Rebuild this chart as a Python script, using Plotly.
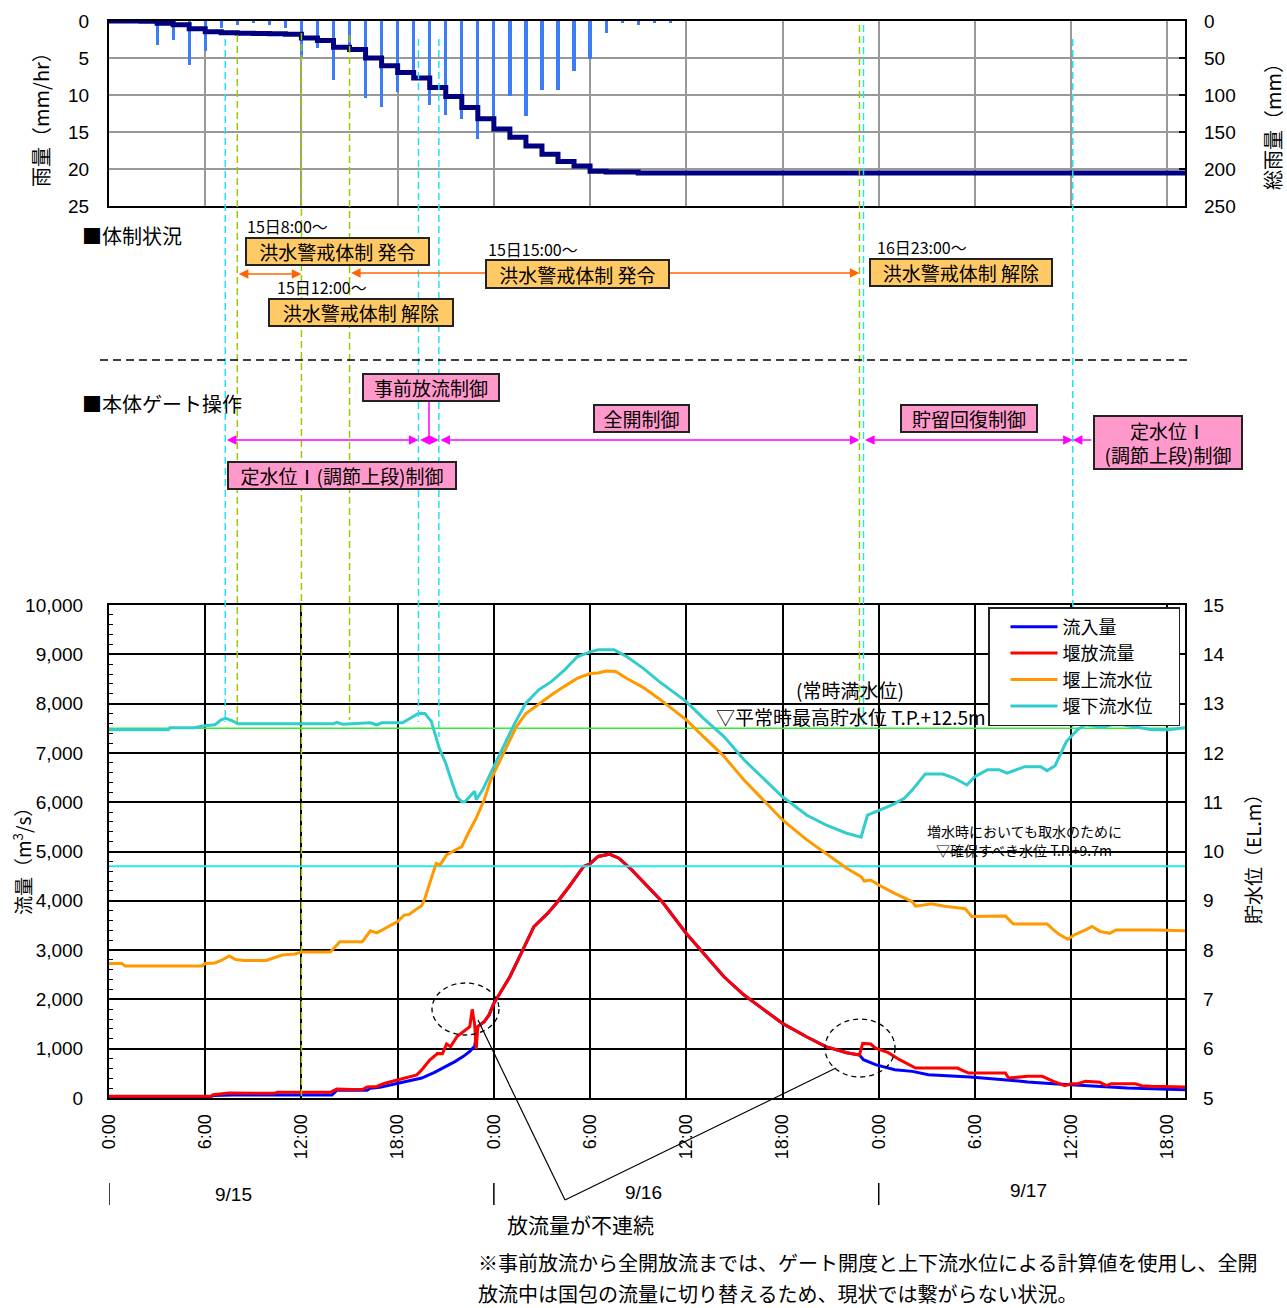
import plotly.graph_objects as go

W, H = 1287, 1308
JP = "Noto Sans CJK JP"
NUM = "Liberation Sans Narrow, Liberation Sans, Arial, sans-serif"

# ---------------- data (hours from 9/15 0:00) ----------------
rain_hour = [3, 4, 5, 6, 7, 8, 9, 10, 11, 12, 13, 14, 15, 16, 17, 18, 19, 20, 21, 22, 23,
             24, 25, 26, 27, 28, 29, 30, 31, 32, 33, 34, 35]
rain_mmhr = [3.2, 2.5, 5.9, 4.0, 1.0, 0.6, 0.2, 0.5, 0.9, 4.9, 3.6, 8.0, 4.0, 10.4, 11.6, 9.6,
             7.7, 11.3, 12.7, 13.2, 16.0, 13.0, 10.1, 12.9, 9.3, 9.3, 6.8, 5.1, 1.6, 0.2, 0.5, 0.3, 0.3]

cum_hour = [0, 2, 3, 4, 5, 6, 7, 8, 9, 10, 11, 12, 13, 14, 15, 16, 17, 18, 19, 20, 21, 22, 23,
            24, 25, 26, 27, 28, 29, 30, 31, 33, 67.1]
cum_mm = [0, 0.5, 3.0, 5.0, 10.5, 14.5, 16.0, 16.5, 16.8, 17.2, 18.0, 23.0, 26.5, 35.5, 38.5,
          50.0, 60.5, 69.5, 77.0, 90.0, 102.0, 117.0, 132.0, 146.0, 157.0, 169.0, 180.0, 190.0,
          196.0, 203.0, 204.0, 205.5, 205.5]

inflow_hour = [0, 6.3, 6.5, 7.7, 13.9, 14.2, 16.1, 16.3, 16.9, 17.9, 18.7, 19.5, 20.3, 21.05,
               21.6, 22.1, 22.5, 22.8, 23.0, 23.4, 23.7, 24.0, 24.3, 25.0, 25.8, 26.5, 27.35,
               27.9, 28.7, 29.6, 30.0, 30.5, 31.2, 31.8, 32.6, 33.4, 34.2, 34.5, 36.0, 37.07,
               38.35, 39.6, 40.9, 42.0, 43.5, 44.7, 46.0, 46.8, 47.05, 47.8, 49.0, 50.1, 51.1,
               53.7, 55.8, 57.3, 58.9, 61.4, 63.5, 67.1]
inflow_cms = [20, 20, 50, 60, 60, 155, 155, 200, 220, 290, 340, 405, 520, 642, 743, 845, 946,
              1047, 1447, 1550, 1685, 1920, 2090, 2460, 3000, 3475, 3745, 3950, 4290, 4696,
              4750, 4899, 4946, 4865, 4628, 4358, 4088, 3980, 3338, 2932, 2459, 2088, 1784,
              1514, 1243, 1041, 919, 872, 777, 676, 574, 540, 473, 426, 372, 324, 290, 250,
              203, 169]

outflow_hour = [0, 6.35, 6.5, 7.5, 10.3, 10.5, 13.8, 14.2, 15.1, 15.8, 16.1, 16.7, 17.2, 17.9,
                18.4, 19.2, 19.5, 20.0, 20.5, 20.8, 21.05, 21.3, 21.7, 22.1, 22.5, 22.65, 22.8,
                22.9, 23.0, 23.4, 23.7, 24.0, 24.3, 25.0, 25.8, 26.5, 27.35, 27.9, 28.7, 29.6,
                30.0, 30.5, 31.2, 31.8, 32.6, 33.4, 34.2, 34.5, 36.0, 37.07, 38.35, 39.6, 40.9,
                42.0, 43.5, 44.7, 46.0, 46.8, 47.0, 47.5, 47.8, 48.6, 49.3, 50.1, 50.3, 52.9,
                53.6, 55.9, 56.1, 57.3, 58.2, 58.9, 59.6, 60.0, 60.4, 60.9, 61.8, 62.2, 62.5,
                64.0, 64.4, 65.0, 67.1]
outflow_cms = [34, 34, 68, 100, 95, 115, 115, 180, 170, 170, 225, 235, 300, 365, 400, 470, 570,
               770, 905, 900, 1095, 1040, 1245, 1345, 1447, 1798, 1500, 990, 1447, 1550, 1685,
               1920, 2090, 2460, 3000, 3475, 3745, 3950, 4290, 4696, 4750, 4899, 4946, 4865,
               4628, 4358, 4088, 3980, 3338, 2932, 2459, 2088, 1784, 1514, 1243, 1041, 919,
               872, 1108, 1095, 1010, 919, 777, 655, 608, 608, 507, 507, 405, 440, 440, 338,
               250, 290, 290, 338, 318, 250, 290, 290, 250, 236, 223]

up_hour = [0, 0.8, 1.0, 5.8, 6.0, 6.6, 7.0, 7.5, 7.9, 8.45, 9.8, 10.3, 10.8, 11.6, 12.0, 13.8,
           14.4, 15.8, 16.3, 16.7, 17.4, 18.0, 18.4, 18.7, 19.2, 19.5, 19.7, 20.0, 20.4, 20.65,
           21.05, 21.6, 22.0, 22.4, 22.9, 23.4, 23.8, 24.2, 24.7, 25.4, 26.0, 26.7, 27.6, 28.4,
           29.2, 30.0, 30.5, 31.0, 31.6, 32.3, 33.3, 34.3, 36.0, 37.07, 38.35, 39.6, 40.9,
           42.0, 43.5, 44.7, 46.0, 46.9, 47.1, 47.5, 48.0, 49.0, 50.1, 50.3, 51.3, 52.1, 53.4,
           53.8, 55.9, 56.4, 58.5, 58.9, 59.3, 59.8, 60.2, 60.9, 61.3, 61.8, 62.4, 62.8, 65.3,
           67.1]
up_level = [7.73, 7.73, 7.68, 7.68, 7.73, 7.74, 7.79, 7.88, 7.81, 7.79, 7.79, 7.84, 7.90, 7.92,
            7.96, 7.96, 8.17, 8.17, 8.39, 8.35, 8.47, 8.58, 8.71, 8.72, 8.84, 8.90, 9.05, 9.35,
            9.76, 9.73, 9.93, 10.03, 10.10, 10.37, 10.68, 11.05, 11.45, 11.72, 12.06, 12.53,
            12.80, 12.97, 13.18, 13.35, 13.51, 13.61, 13.62, 13.66, 13.65, 13.51, 13.33, 13.10,
            12.67, 12.33, 11.93, 11.45, 11.01, 10.64, 10.24, 9.97, 9.66, 9.49, 9.40, 9.42, 9.32,
            9.15, 8.98, 8.89, 8.94, 8.89, 8.84, 8.68, 8.69, 8.53, 8.53, 8.41, 8.31, 8.22, 8.31,
            8.41, 8.48, 8.38, 8.34, 8.41, 8.41, 8.39]

down_hour = [0, 3.7, 3.8, 5.3, 6.0, 6.6, 7.0, 7.27, 7.7, 8.05, 14.0, 14.2, 14.6, 15.8, 16.3,
             16.7, 17.0, 18.3, 18.8, 19.3, 19.7, 20.1, 20.6, 21.0, 21.4, 21.7, 22.0, 22.2, 22.8,
             22.9, 23.3, 23.7, 24.1, 24.6, 25.3, 26.0, 26.8, 27.6, 28.4, 29.2, 30.0, 30.5, 31.5,
             32.3, 33.3, 34.3, 36.0, 37.07, 38.35, 39.6, 40.9, 42.0, 43.5, 44.7, 46.0, 46.9,
             47.3, 48.05, 48.8, 49.6, 50.1, 50.9, 52.0, 52.7, 53.5, 54.0, 54.8, 55.5, 56.0,
             57.1, 58.1, 58.5, 59.0, 59.7, 60.4, 60.9, 62.0, 62.5, 63.2, 64.3, 65.0, 66.1, 67.1]
down_level = [12.47, 12.47, 12.51, 12.51, 12.55, 12.57, 12.67, 12.70, 12.65, 12.59, 12.59, 12.62,
              12.58, 12.61, 12.61, 12.57, 12.61, 12.61, 12.70, 12.80, 12.80, 12.64, 12.09,
              11.79, 11.39, 11.11, 11.01, 11.01, 11.22, 11.05, 11.25, 11.52, 11.79, 12.13,
              12.60, 13.01, 13.28, 13.45, 13.68, 13.95, 14.05, 14.09, 14.09, 13.95, 13.72,
              13.45, 13.04, 12.70, 12.33, 11.86, 11.45, 11.11, 10.74, 10.54, 10.37, 10.29,
              10.74, 10.84, 10.94, 11.08, 11.25, 11.57, 11.57, 11.49, 11.35, 11.52, 11.66,
              11.66, 11.59, 11.72, 11.72, 11.64, 11.74, 12.23, 12.47, 12.57, 12.52, 12.57,
              12.57, 12.51, 12.47, 12.47, 12.51]

# reference water levels (m)
normal_high_level = 12.5
secure_level = 9.7

hour_ticks = [0, 6, 12, 18, 24, 30, 36, 42, 48, 54, 60, 66]
hour_labels = ["0:00", "6:00", "12:00", "18:00"] * 3
day_start_hours = [0, 24, 48]
day_labels = ["9/15", "9/16", "9/17"]

# event times (hours)
cyan_events = [7.25, 19.3, 20.57, 47.05, 60.1]
green_events = [8.0, 12.0, 15.0, 46.8]

X_MAX = 67.1


# ---------------- layout helpers ----------------
def px(x):
    return x / W


def py(y):
    return 1 - y / H


X0, X1 = px(109), px(1185)
TOP = [py(206), py(21)]
BOT = [py(1098), py(605)]

fig = go.Figure()

fig.add_trace(go.Bar(x=rain_hour, y=rain_mmhr, xaxis="x", yaxis="y", width=0.2,
                     marker=dict(color="#3c7cf5", line=dict(width=0)), showlegend=False))
fig.add_trace(go.Scatter(x=cum_hour, y=cum_mm, xaxis="x", yaxis="y2", mode="lines",
                         line=dict(color="#000080", width=5, shape="hv"), showlegend=False))

NB = "\u00a0"
fig.add_trace(go.Scatter(x=inflow_hour, y=inflow_cms, xaxis="x2", yaxis="y3", mode="lines",
                         name="流入量", line=dict(color="#0000ff", width=3)))
fig.add_trace(go.Scatter(x=outflow_hour, y=outflow_cms, xaxis="x2", yaxis="y3", mode="lines",
                         name="堰放流量", line=dict(color="#ff0000", width=3)))
# reference level lines
fig.add_trace(go.Scatter(x=[0, X_MAX], y=[normal_high_level] * 2, xaxis="x2", yaxis="y4",
                         mode="lines", line=dict(color="#33ee33", width=1.5), showlegend=False,
                         hoverinfo="skip"))
fig.add_trace(go.Scatter(x=[0, X_MAX], y=[secure_level] * 2, xaxis="x2", yaxis="y4",
                         mode="lines", line=dict(color="#22e8f0", width=2), showlegend=False,
                         hoverinfo="skip"))
fig.add_trace(go.Scatter(x=up_hour, y=up_level, xaxis="x2", yaxis="y4", mode="lines",
                         name="堰上流水位" + NB * 5, line=dict(color="#ff9900", width=3)))
fig.add_trace(go.Scatter(x=down_hour, y=down_level, xaxis="x2", yaxis="y4", mode="lines",
                         name="堰下流水位", line=dict(color="#33cccc", width=3)))

axis_common = dict(showline=True, linecolor="black", linewidth=2, mirror=True, zeroline=False,
                   automargin=False)

fig.update_layout(
    width=W, height=H, autosize=False,
    margin=dict(l=0, r=0, t=0, b=0, pad=0, autoexpand=False),
    paper_bgcolor="white", plot_bgcolor="white",
    bargap=0,
    xaxis=dict(domain=[X0, X1], range=[0, X_MAX], anchor="y", tickvals=hour_ticks,
               showticklabels=False, ticks="", showgrid=True, gridcolor="#999999",
               gridwidth=1.5, **axis_common),
    yaxis=dict(domain=TOP, range=[25, 0], anchor="x", dtick=5, tick0=0, showgrid=True,
               gridcolor="#999999", gridwidth=1.5, ticks="", ticklabelstandoff=14,
               tickfont=dict(family="Liberation Sans, Arial", size=19, color="black"),
               **axis_common),
    yaxis2=dict(overlaying="y", side="right", anchor="x", range=[250, 0], dtick=50, tick0=0,
                showgrid=False, zeroline=False, ticks="inside", ticklen=6, tickcolor="black",
                tickwidth=2, ticklabelstandoff=18, automargin=False,
                tickfont=dict(family="Liberation Sans, Arial", size=19, color="black")),
    xaxis2=dict(domain=[X0, X1], range=[0, X_MAX], anchor="y3", tickvals=hour_ticks,
                ticktext=hour_labels, tickangle=-90, ticks="", showgrid=True,
                gridcolor="black", gridwidth=1.5, ticklabelstandoff=7,
                tickfont=dict(family="Liberation Sans, Arial", size=18, color="black"),
                **axis_common),
    yaxis3=dict(domain=BOT, range=[0, 10000], anchor="x2", dtick=1000, tick0=0,
                tickformat=",d", showgrid=True, gridcolor="black", gridwidth=1.5, ticks="",
                ticklabelstandoff=20,
                minor=dict(dtick=200, ticks="inside", ticklen=4, tickcolor="black",
                           showgrid=False),
                tickfont=dict(family=NUM, size=19, color="black"), **axis_common),
    yaxis4=dict(overlaying="y3", side="right", anchor="x2", range=[5, 15], dtick=1, tick0=5,
                showgrid=False, zeroline=False, ticks="", ticklabelstandoff=17,
                automargin=False,
                tickfont=dict(family=NUM, size=19, color="black")),
    legend=dict(x=px(988), y=py(607), xanchor="left", yanchor="top", bgcolor="white",
                bordercolor="#222", borderwidth=1.5, itemwidth=47, tracegroupgap=0,
                indentation=16,
                font=dict(family=JP, size=18, color="black")),
)

shapes = []
cyan_spans = [(39, 722), (39, 722), (39, 737), (25, 725), (39, 727)]
green_spans = [(35, 722), (33, 1098), (35, 720), (25, 712)]
for t, (a, b) in zip(cyan_events, cyan_spans):
    shapes.append(dict(type="line", xref="x", yref="paper", x0=t, x1=t, y0=py(a), y1=py(b),
                       line=dict(color="#20e4f4", width=1.5, dash="7px,4px"), layer="above"))
for t, (a, b) in zip(green_events, green_spans):
    shapes.append(dict(type="line", xref="x", yref="paper", x0=t, x1=t, y0=py(a), y1=py(b),
                       line=dict(color="#99cc00", width=1.5, dash="7px,4px"), layer="above"))

# separator
shapes.append(dict(type="line", xref="paper", yref="paper", x0=px(100), x1=px(1192),
                   y0=py(360), y1=py(360), line=dict(color="black", width=1.5, dash="8px,5px")))
# day ticks
for t in day_start_hours:
    shapes.append(dict(type="line", xref="x", yref="paper", x0=t, x1=t, y0=py(1183),
                       y1=py(1205), line=dict(color="black", width=1.5)))
# dashed circles and callout
shapes.append(dict(type="circle", xref="paper", yref="paper", x0=px(432), x1=px(499),
                   y0=py(983), y1=py(1035), line=dict(color="black", width=1.3, dash="5px,4px")))
shapes.append(dict(type="circle", xref="paper", yref="paper", x0=px(825), x1=px(895),
                   y0=py(1019), y1=py(1077), line=dict(color="black", width=1.3, dash="5px,4px")))
shapes.append(dict(type="line", xref="paper", yref="paper", x0=px(478), y0=py(1020),
                   x1=px(565), y1=py(1200), line=dict(color="black", width=1.2)))
shapes.append(dict(type="line", xref="paper", yref="paper", x0=px(565), y0=py(1200),
                   x1=px(836), y1=py(1068), line=dict(color="black", width=1.2)))
# magenta connector from 事前放流制御 box
shapes.append(dict(type="line", xref="paper", yref="paper", x0=px(429), x1=px(429),
                   y0=py(402), y1=py(440), line=dict(color="#ff00ff", width=1.5)))

ann = []


def text(t, x, y, size, xanchor="left", family=JP, angle=0):
    ann.append(dict(text=t, xref="paper", yref="paper", x=px(x), y=py(y), xanchor=xanchor,
                    yanchor="middle", showarrow=False, textangle=angle,
                    font=dict(family=family, size=size, color="black")))


def box(t, x0, y0, x1, y1, fill, size=19):
    bw = 2
    ann.append(dict(text=t, xref="paper", yref="paper", x=px(x0), y=py(y0), xanchor="left",
                    yanchor="top", showarrow=False, width=(x1 - x0) - 2 * bw,
                    height=(y1 - y0) - 2 * bw, bgcolor=fill, bordercolor="#222",
                    borderwidth=bw, borderpad=0, align="center", valign="middle",
                    font=dict(family=JP, size=size, color="black")))


def arrow(t0, t1, y, color, both=True):
    ann.append(dict(text="", xref="x", yref="paper", x=t1, y=py(y), axref="x", ax=t0,
                    ayref="pixel", ay=0, showarrow=True, arrowhead=2, arrowsize=1.2,
                    arrowwidth=1.6, arrowcolor=color, startarrowhead=2, startarrowsize=1.2,
                    arrowside="end+start" if both else "end", standoff=0, startstandoff=0))


# arrows first so that boxes are drawn above them
arrow(green_events[0], green_events[1], 274, "#ff6600")
arrow(green_events[2], green_events[3], 273, "#ff6600")
arrow(cyan_events[0], cyan_events[1], 440, "#ff00ff")
arrow(cyan_events[1], cyan_events[2], 440, "#ff00ff")
arrow(cyan_events[2], green_events[3], 440, "#ff00ff")
arrow(cyan_events[3], cyan_events[4], 440, "#ff00ff")
arrow(61.35, cyan_events[4], 440, "#ff00ff", both=False)

OR = "#ffca66"
PK = "#ff99cc"
text("■体制状況", 80, 235, 20)
text("■本体ゲート操作", 80, 403, 20)
text("15日8:00～", 245, 226, 16)
text("15日12:00～", 275, 287, 16)
text("15日15:00～", 486, 249, 16)
text("16日23:00～", 875, 247, 16)
box("洪水警戒体制 発令", 245, 237, 430, 266, OR)
box("洪水警戒体制 解除", 268, 298, 454, 327, OR)
box("洪水警戒体制 発令", 485, 259, 670, 289, OR)
box("洪水警戒体制 解除", 869, 258, 1053, 287, OR)
box("事前放流制御", 362, 373, 500, 402, PK)
box("全開制御", 593, 404, 690, 433, PK)
box("定水位Ⅰ(調節上段)制御", 227, 461, 457, 490, PK)
box("貯留回復制御", 900, 404, 1038, 433, PK)
box("定水位Ⅰ<br>(調節上段)制御", 1093, 415, 1243, 470, PK)

text("(常時満水位)", 850, 690, 19, xanchor="center")
text("▽平常時最高貯水位 T.P.+12.5m", 714, 716, 19)
text("増水時においても取水のために", 1024, 831, 14, xanchor="center")
text("▽確保すべき水位 T.P.+9.7m", 1024, 850, 14, xanchor="center")

text("雨量（mm/hr）", 40, 115, 20, xanchor="center", angle=-90)
text("総雨量（mm）", 1273, 122, 20, xanchor="center", angle=-90)
text("流量（m<sup>3</sup>/s）", 22, 857, 19, xanchor="center", angle=-90)
text("貯水位（EL.m）", 1252, 855, 19, xanchor="center", angle=-90)

for lbl, xpos, ypos in zip(day_labels, [233, 643, 1028], [1194, 1192, 1190]):
    text(lbl, xpos, ypos, 19, xanchor="center", family="Liberation Sans, Arial")

text("放流量が不連続", 505, 1224, 21)
text("※事前放流から全開放流までは、ゲート開度と上下流水位による計算値を使用し、全開", 476, 1262, 20)
text("放流中は国包の流量に切り替えるため、現状では繋がらない状況。", 476, 1293, 20)

fig.update_layout(shapes=shapes, annotations=ann)
fig.write_html("out.html")
